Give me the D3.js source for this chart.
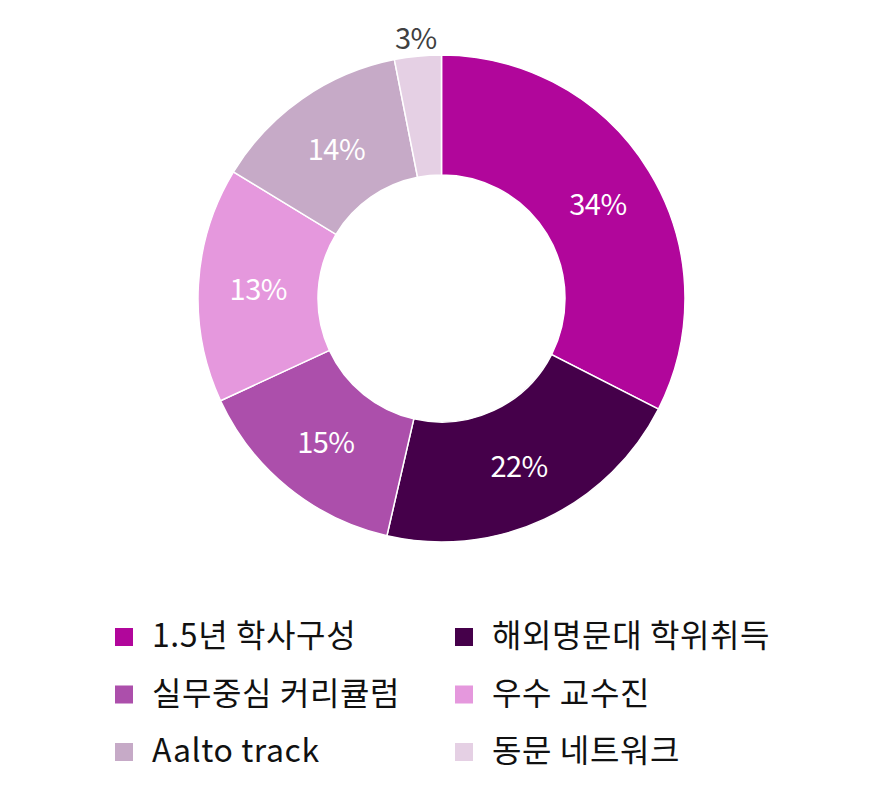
<!DOCTYPE html>
<html>
<head>
<meta charset="utf-8">
<script src="https://cdn.jsdelivr.net/npm/d3@7"></script>
<style>
    body { margin: 0; background: #fff; }
    svg text { font-family: "Noto Sans CJK KR", "Noto Sans", sans-serif; }
</style>
</head>
<body>
<script>
(function () {

    //chart data
    var categories = ["1.5년 학사구성", "해외명문대 학위취득", "실무중심 커리큘럼", "우수 교수진", "Aalto track", "동문 네트워크"];
    var shares = [32.5, 21.1, 14.5, 15.6, 13.2, 3.1]; //slice sizes
    var labels = ["34%", "22%", "15%", "13%", "14%", "3%"];
    var colors = ["#b1069b", "#45004a", "#ac4fab", "#e598dd", "#c6aac7", "#e5d0e4"];

    var width = 884,
        height = 801,
        cx = 441.5,
        cy = 298.5,
        outerR = 243.5,
        innerR = 123.5;

    var svg = d3.select("body")
        .append("svg")
        .attr("width", width)
        .attr("height", height);

    var pie = d3.pie()
        .sort(null)
        .value(function (d) { return d; });

    var arc = d3.arc()
        .innerRadius(innerR)
        .outerRadius(outerR);

    var outsideArc = d3.arc()
        .innerRadius(263)
        .outerRadius(263);

    var arcs = pie(shares);

    var g = svg.append("g")
        .attr("transform", "translate(" + cx + "," + cy + ")");

    g.selectAll(".slice")
        .data(arcs)
        .enter()
        .append("path")
        .attr("class", "slice")
        .attr("d", arc)
        .style("fill", function (d, i) { return colors[i]; })
        .style("stroke", "#fff")
        .style("stroke-width", 1.5);

    //value labels, small slices go outside the ring
    g.selectAll(".value")
        .data(arcs)
        .enter()
        .append("text")
        .attr("class", "value")
        .attr("text-anchor", "middle")
        .attr("transform", function (d) {
            var small = (d.endAngle - d.startAngle) < 0.3;
            var c = small ? outsideArc.centroid(d) : arc.centroid(d);
            return "translate(" + c[0] + "," + (c[1] + 12) + ")";
        })
        .style("font-size", "29px")
        .style("letter-spacing", "-0.5px")
        .style("fill", function (d) {
            return (d.endAngle - d.startAngle) < 0.3 ? "#404040" : "#fff";
        })
        .text(function (d, i) { return labels[i]; });

    //legend, two columns
    var legend = svg.append("g").attr("class", "legend");
    var colX = [115, 455],
        rowY = [628, 685.5, 743];

    var items = legend.selectAll(".item")
        .data(categories)
        .enter()
        .append("g")
        .attr("class", "item")
        .attr("transform", function (d, i) {
            return "translate(" + colX[i % 2] + "," + rowY[Math.floor(i / 2)] + ")";
        });

    items.append("rect")
        .attr("width", 18)
        .attr("height", 18)
        .style("fill", function (d, i) { return colors[i]; });

    items.append("text")
        .attr("x", 37)
        .attr("y", 19)
        .style("font-size", "32px")
        .style("letter-spacing", "0.6px")
        .style("fill", "#111")
        .text(function (d) { return d; });

})();
</script>
</body>
</html>
